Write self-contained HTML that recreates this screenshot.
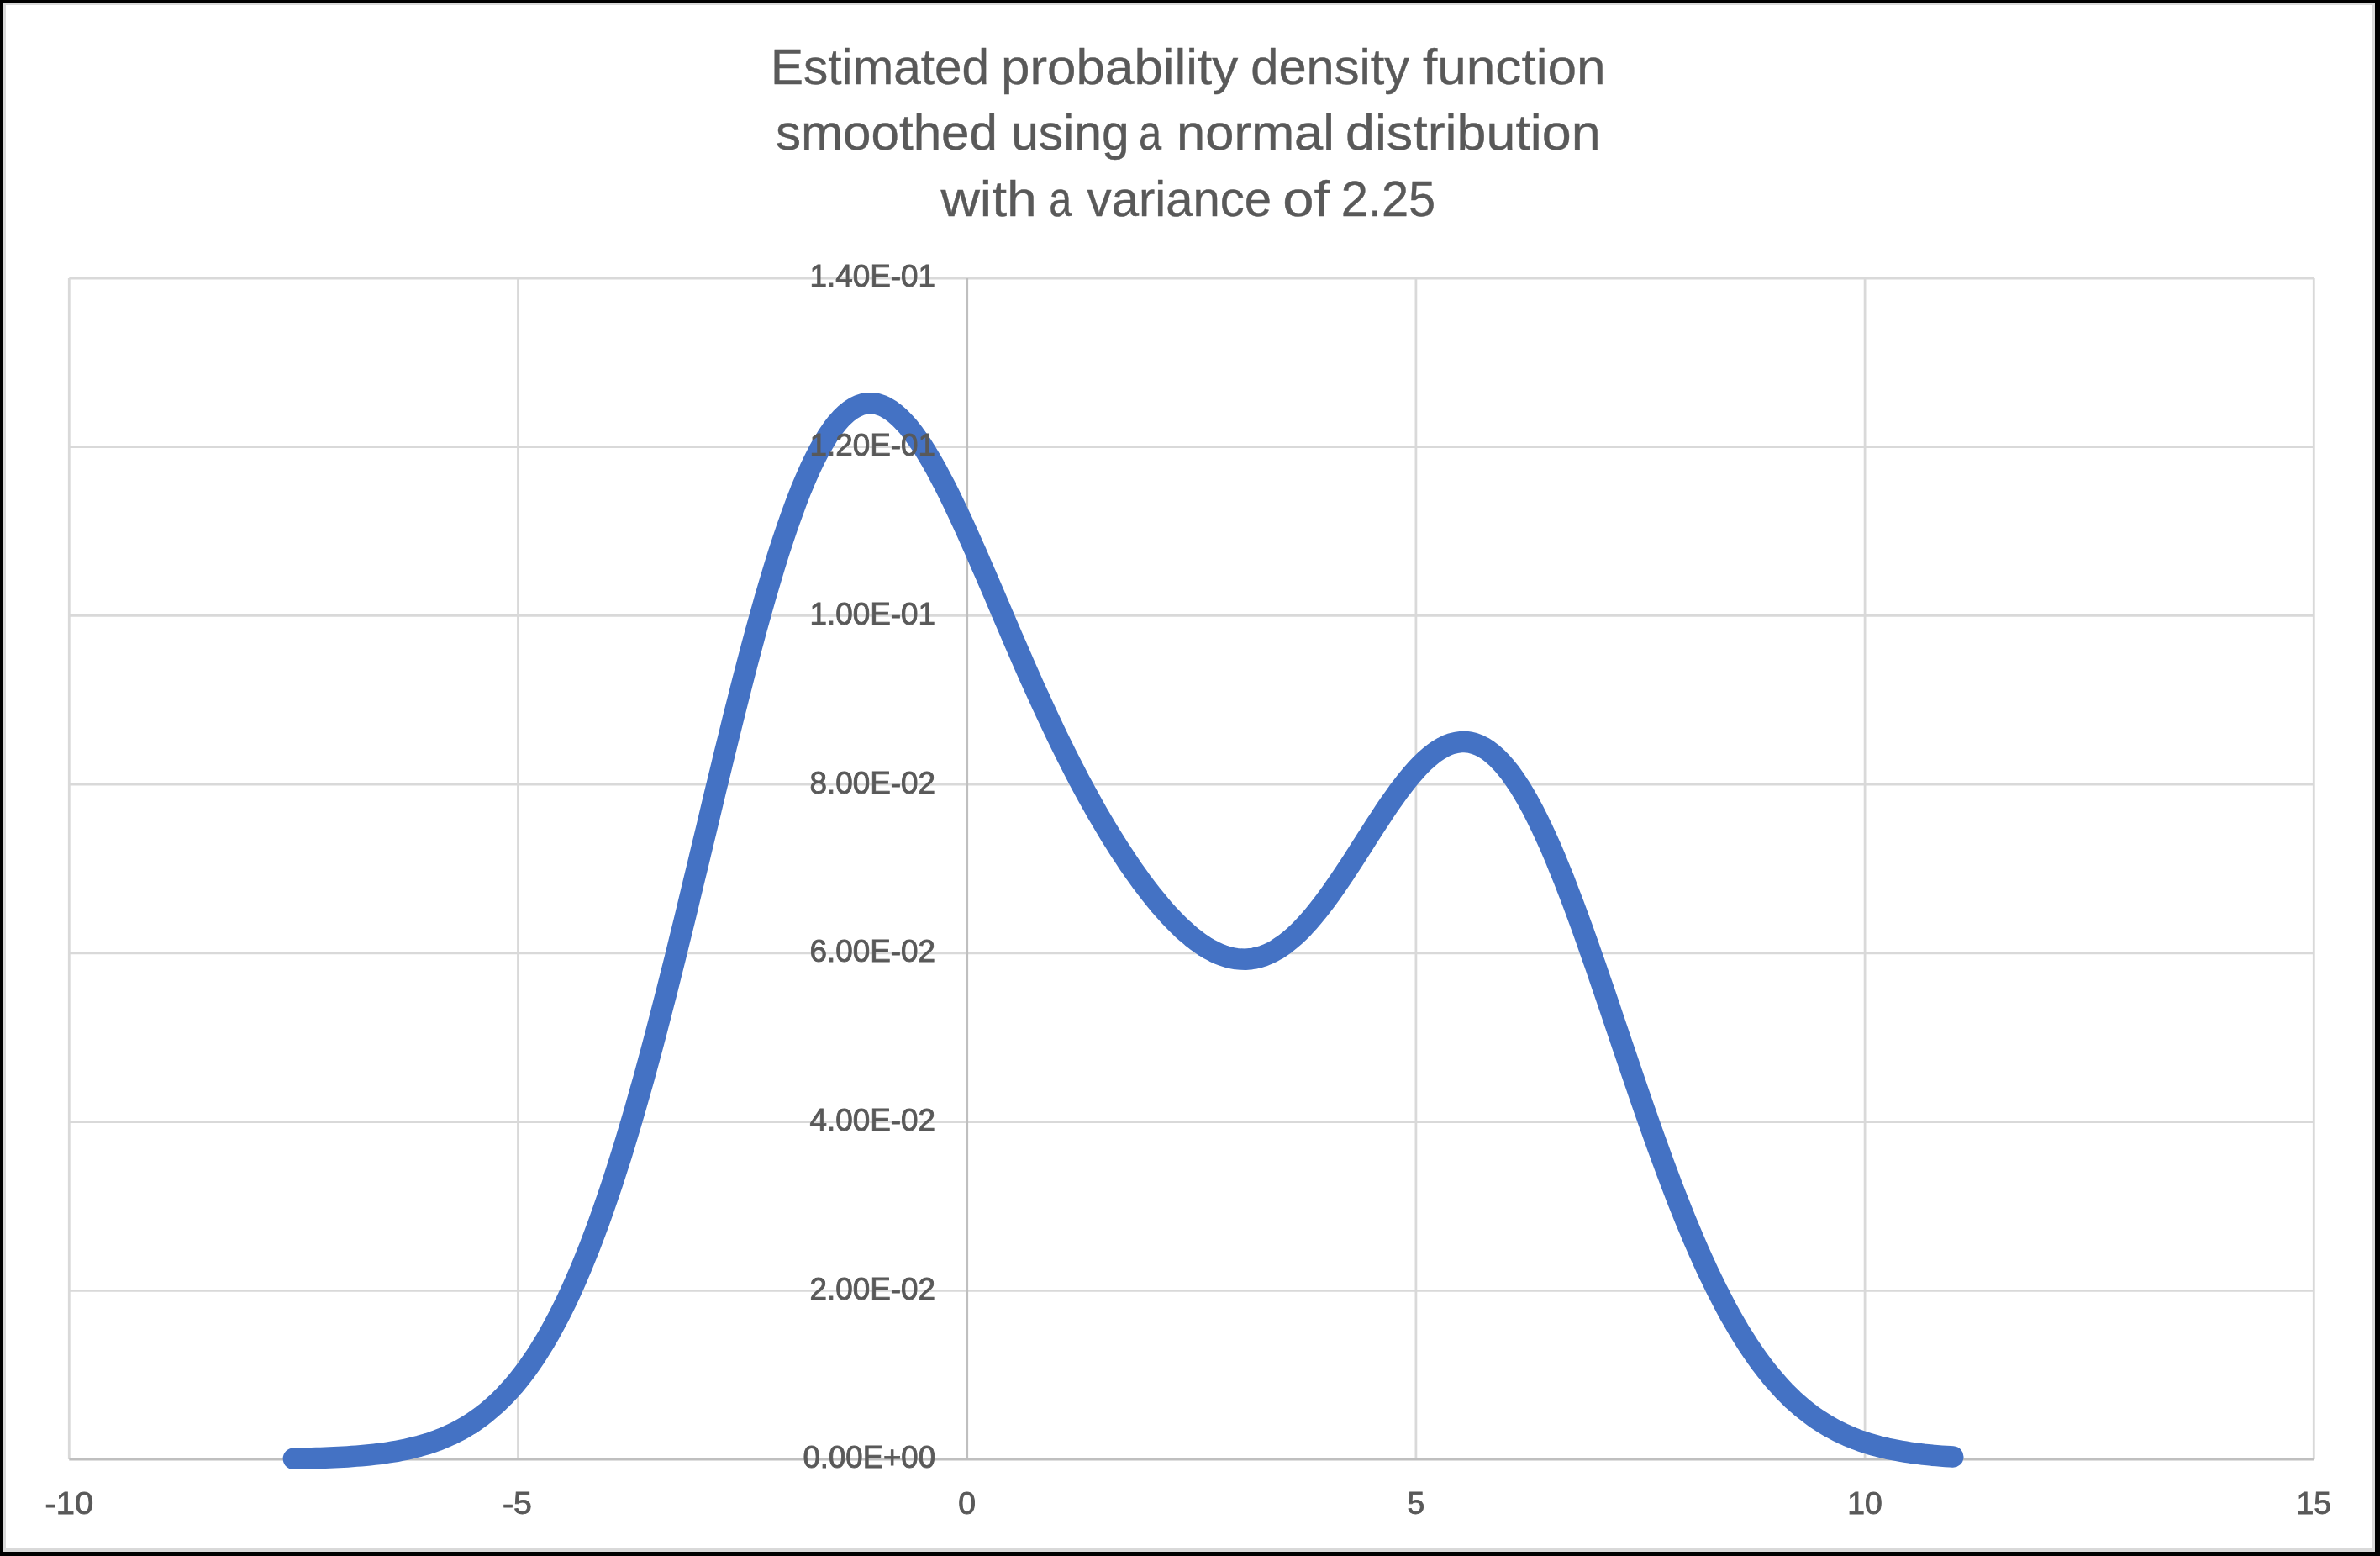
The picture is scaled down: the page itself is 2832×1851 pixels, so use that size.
<!DOCTYPE html>
<html><head><meta charset="utf-8"><style>
html,body{margin:0;padding:0;background:#000;}
svg{display:block;will-change:transform;}
text{font-family:"Liberation Sans",sans-serif;fill:#595959;}
.t{opacity:0.999;}
</style></head><body>
<svg width="2832" height="1851" viewBox="0 0 2832 1851">
<rect x="0" y="0" width="2832" height="1851" fill="#000"/>
<rect x="4" y="3" width="2822" height="1843" fill="#d9d9d9"/>
<rect x="7" y="6" width="2816" height="1836" fill="#fff"/>
<g stroke="#d9d9d9" stroke-width="2.8" fill="none">
<line x1="82.3" y1="331.0" x2="82.3" y2="1736.0"/>
<line x1="616.5" y1="331.0" x2="616.5" y2="1736.0"/>
<line x1="1684.9" y1="331.0" x2="1684.9" y2="1736.0"/>
<line x1="2219.1" y1="331.0" x2="2219.1" y2="1736.0"/>
<line x1="2753.3" y1="331.0" x2="2753.3" y2="1736.0"/>
<line x1="82.3" y1="1535.3" x2="2753.3" y2="1535.3"/>
<line x1="82.3" y1="1334.6" x2="2753.3" y2="1334.6"/>
<line x1="82.3" y1="1133.9" x2="2753.3" y2="1133.9"/>
<line x1="82.3" y1="933.2" x2="2753.3" y2="933.2"/>
<line x1="82.3" y1="732.4" x2="2753.3" y2="732.4"/>
<line x1="82.3" y1="531.7" x2="2753.3" y2="531.7"/>
<line x1="82.3" y1="331.0" x2="2753.3" y2="331.0"/>
</g>
<g stroke="#bfbfbf" stroke-width="2.8" fill="none">
<line x1="1150.7" y1="331.0" x2="1150.7" y2="1736.0"/>
<line x1="82.3" y1="1736.0" x2="2753.3" y2="1736.0"/>
</g>
<polyline fill="none" stroke="#4472c4" stroke-width="25.5" stroke-linecap="round" stroke-linejoin="round" points="349.4,1735.2 354.7,1735.1 360.1,1735.0 365.4,1734.9 370.8,1734.7 376.1,1734.6 381.5,1734.4 386.8,1734.2 392.1,1734.0 397.5,1733.8 402.8,1733.5 408.2,1733.2 413.5,1732.9 418.8,1732.5 424.2,1732.1 429.5,1731.7 434.9,1731.2 440.2,1730.7 445.6,1730.1 450.9,1729.5 456.2,1728.8 461.6,1728.0 466.9,1727.2 472.3,1726.3 477.6,1725.3 483.0,1724.2 488.3,1723.0 493.6,1721.7 499.0,1720.3 504.3,1718.8 509.7,1717.2 515.0,1715.4 520.3,1713.5 525.7,1711.4 531.0,1709.1 536.4,1706.7 541.7,1704.1 547.1,1701.4 552.4,1698.4 557.7,1695.2 563.1,1691.7 568.4,1688.0 573.8,1684.1 579.1,1679.9 584.4,1675.4 589.8,1670.7 595.1,1665.6 600.5,1660.2 605.8,1654.5 611.2,1648.5 616.5,1642.1 621.8,1635.3 627.2,1628.2 632.5,1620.6 637.9,1612.7 643.2,1604.3 648.6,1595.5 653.9,1586.3 659.2,1576.7 664.6,1566.5 669.9,1556.0 675.3,1544.9 680.6,1533.4 685.9,1521.3 691.3,1508.8 696.6,1495.8 702.0,1482.3 707.3,1468.3 712.7,1453.8 718.0,1438.8 723.3,1423.4 728.7,1407.4 734.0,1390.9 739.4,1374.0 744.7,1356.6 750.0,1338.8 755.4,1320.5 760.7,1301.8 766.1,1282.7 771.4,1263.1 776.8,1243.2 782.1,1223.0 787.4,1202.4 792.8,1181.5 798.1,1160.4 803.5,1139.0 808.8,1117.3 814.2,1095.5 819.5,1073.5 824.8,1051.4 830.2,1029.2 835.5,1007.0 840.9,984.7 846.2,962.5 851.5,940.3 856.9,918.2 862.2,896.3 867.6,874.5 872.9,852.9 878.3,831.7 883.6,810.7 888.9,790.1 894.3,769.8 899.6,750.0 905.0,730.6 910.3,711.8 915.7,693.4 921.0,675.7 926.3,658.5 931.7,642.0 937.0,626.2 942.4,611.1 947.7,596.7 953.0,583.0 958.4,570.1 963.7,558.1 969.1,546.8 974.4,536.4 979.8,526.9 985.1,518.2 990.4,510.4 995.8,503.4 1001.1,497.4 1006.5,492.2 1011.8,488.0 1017.2,484.6 1022.5,482.1 1027.8,480.4 1033.2,479.7 1038.5,479.7 1043.9,480.6 1049.2,482.3 1054.5,484.8 1059.9,488.1 1065.2,492.1 1070.6,496.8 1075.9,502.3 1081.3,508.3 1086.6,515.1 1091.9,522.4 1097.3,530.3 1102.6,538.7 1108.0,547.7 1113.3,557.1 1118.6,567.0 1124.0,577.2 1129.3,587.8 1134.7,598.8 1140.0,610.0 1145.4,621.5 1150.7,633.3 1156.0,645.2 1161.4,657.3 1166.7,669.6 1172.1,681.9 1177.4,694.3 1182.8,706.8 1188.1,719.3 1193.4,731.8 1198.8,744.3 1204.1,756.7 1209.5,769.1 1214.8,781.4 1220.1,793.6 1225.5,805.7 1230.8,817.6 1236.2,829.4 1241.5,841.1 1246.9,852.6 1252.2,863.9 1257.5,875.1 1262.9,886.1 1268.2,896.9 1273.6,907.5 1278.9,917.9 1284.2,928.1 1289.6,938.1 1294.9,947.9 1300.3,957.5 1305.6,966.9 1311.0,976.1 1316.3,985.1 1321.6,993.9 1327.0,1002.5 1332.3,1010.9 1337.7,1019.1 1343.0,1027.1 1348.4,1034.9 1353.7,1042.4 1359.0,1049.8 1364.4,1056.9 1369.7,1063.8 1375.1,1070.4 1380.4,1076.9 1385.7,1083.0 1391.1,1089.0 1396.4,1094.6 1401.8,1100.0 1407.1,1105.1 1412.5,1109.9 1417.8,1114.4 1423.1,1118.6 1428.5,1122.5 1433.8,1126.1 1439.2,1129.3 1444.5,1132.1 1449.9,1134.6 1455.2,1136.7 1460.5,1138.4 1465.9,1139.7 1471.2,1140.6 1476.6,1141.1 1481.9,1141.2 1487.2,1140.8 1492.6,1140.0 1497.9,1138.8 1503.3,1137.1 1508.6,1135.0 1514.0,1132.5 1519.3,1129.5 1524.6,1126.0 1530.0,1122.2 1535.3,1117.9 1540.7,1113.3 1546.0,1108.2 1551.4,1102.7 1556.7,1096.9 1562.0,1090.7 1567.4,1084.2 1572.7,1077.4 1578.1,1070.3 1583.4,1063.0 1588.7,1055.4 1594.1,1047.6 1599.4,1039.6 1604.8,1031.5 1610.1,1023.3 1615.5,1014.9 1620.8,1006.6 1626.1,998.2 1631.5,989.9 1636.8,981.6 1642.2,973.4 1647.5,965.3 1652.8,957.4 1658.2,949.8 1663.5,942.3 1668.9,935.2 1674.2,928.4 1679.6,921.9 1684.9,915.8 1690.2,910.1 1695.6,904.9 1700.9,900.2 1706.3,895.9 1711.6,892.2 1717.0,889.1 1722.3,886.5 1727.6,884.6 1733.0,883.3 1738.3,882.6 1743.7,882.5 1749.0,883.2 1754.3,884.5 1759.7,886.5 1765.0,889.1 1770.4,892.5 1775.7,896.6 1781.1,901.3 1786.4,906.8 1791.7,912.9 1797.1,919.6 1802.4,927.1 1807.8,935.2 1813.1,943.9 1818.5,953.2 1823.8,963.1 1829.1,973.6 1834.5,984.6 1839.8,996.1 1845.2,1008.1 1850.5,1020.6 1855.8,1033.6 1861.2,1046.9 1866.5,1060.7 1871.9,1074.8 1877.2,1089.2 1882.6,1103.9 1887.9,1118.8 1893.2,1134.0 1898.6,1149.3 1903.9,1164.8 1909.3,1180.5 1914.6,1196.2 1919.9,1212.0 1925.3,1227.8 1930.6,1243.6 1936.0,1259.4 1941.3,1275.1 1946.7,1290.8 1952.0,1306.3 1957.3,1321.7 1962.7,1337.0 1968.0,1352.0 1973.4,1366.9 1978.7,1381.5 1984.1,1395.9 1989.4,1410.1 1994.7,1423.9 2000.1,1437.5 2005.4,1450.7 2010.8,1463.7 2016.1,1476.3 2021.4,1488.5 2026.8,1500.5 2032.1,1512.1 2037.5,1523.3 2042.8,1534.2 2048.2,1544.7 2053.5,1554.8 2058.8,1564.6 2064.2,1574.0 2069.5,1583.1 2074.9,1591.8 2080.2,1600.1 2085.6,1608.1 2090.9,1615.7 2096.2,1623.0 2101.6,1630.0 2106.9,1636.6 2112.3,1642.9 2117.6,1648.9 2122.9,1654.7 2128.3,1660.1 2133.6,1665.2 2139.0,1670.0 2144.3,1674.6 2149.7,1678.9 2155.0,1683.0 2160.3,1686.8 2165.7,1690.4 2171.0,1693.8 2176.4,1697.0 2181.7,1699.9 2187.0,1702.7 2192.4,1705.3 2197.7,1707.7 2203.1,1710.0 2208.4,1712.1 2213.8,1714.1 2219.1,1715.9 2224.4,1717.6 2229.8,1719.1 2235.1,1720.6 2240.5,1721.9 2245.8,1723.2 2251.2,1724.3 2256.5,1725.3 2261.8,1726.3 2267.2,1727.2 2272.5,1728.0 2277.9,1728.8 2283.2,1729.4 2288.5,1730.1 2293.9,1730.6 2299.2,1731.2 2304.6,1731.6 2309.9,1732.1 2315.3,1732.5 2320.6,1732.8 2323.8,1733.0"/>
<g class="t" font-size="37.3" text-anchor="end" stroke="#595959" stroke-width="0.9">
<text x="1113" y="1746.3" textLength="157.5" lengthAdjust="spacingAndGlyphs">0.00E+00</text>
<text x="1113" y="1545.6" textLength="149.5" lengthAdjust="spacingAndGlyphs">2.00E-02</text>
<text x="1113" y="1344.9" textLength="149.5" lengthAdjust="spacingAndGlyphs">4.00E-02</text>
<text x="1113" y="1144.2" textLength="149.5" lengthAdjust="spacingAndGlyphs">6.00E-02</text>
<text x="1113" y="943.5" textLength="149.5" lengthAdjust="spacingAndGlyphs">8.00E-02</text>
<text x="1113" y="742.7" textLength="149.5" lengthAdjust="spacingAndGlyphs">1.00E-01</text>
<text x="1113" y="542.0" textLength="149.5" lengthAdjust="spacingAndGlyphs">1.20E-01</text>
<text x="1113" y="341.3" textLength="149.5" lengthAdjust="spacingAndGlyphs">1.40E-01</text>
</g>
<g class="t" font-size="37.3" text-anchor="middle" stroke="#595959" stroke-width="0.9">
<text x="82.3" y="1800.8" textLength="57.7" lengthAdjust="spacingAndGlyphs">-10</text>
<text x="615.5" y="1800.8" textLength="35" lengthAdjust="spacingAndGlyphs">-5</text>
<text x="1150.7" y="1800.8">0</text>
<text x="1684.9" y="1800.8">5</text>
<text x="2219.1" y="1800.8">10</text>
<text x="2753.3" y="1800.8">15</text>
</g>
<g class="t" font-size="60" stroke="#595959" stroke-width="0.4">
<text x="917.1" y="100.0" textLength="259.9" lengthAdjust="spacingAndGlyphs">Estimated</text>
<text x="1191.0" y="100.0" textLength="282.3" lengthAdjust="spacingAndGlyphs">probability</text>
<text x="1488.3" y="100.0" textLength="188.8" lengthAdjust="spacingAndGlyphs">density</text>
<text x="1692.9" y="100.0" textLength="217.8" lengthAdjust="spacingAndGlyphs">function</text>
<text x="922.9" y="177.6" textLength="264.1" lengthAdjust="spacingAndGlyphs">smoothed</text>
<text x="1203.2" y="177.6" textLength="140.5" lengthAdjust="spacingAndGlyphs">using</text>
<text x="1355.1" y="177.6" textLength="27.1" lengthAdjust="spacingAndGlyphs">a</text>
<text x="1400.1" y="177.6" textLength="187.8" lengthAdjust="spacingAndGlyphs">normal</text>
<text x="1601.0" y="177.6" textLength="303.6" lengthAdjust="spacingAndGlyphs">distribution</text>
<text x="1119.5" y="256.8" textLength="114.2" lengthAdjust="spacingAndGlyphs">with</text>
<text x="1248.2" y="256.8" textLength="26.9" lengthAdjust="spacingAndGlyphs">a</text>
<text x="1293.6" y="256.8" textLength="219.6" lengthAdjust="spacingAndGlyphs">variance</text>
<text x="1526.3" y="256.8" textLength="55.9" lengthAdjust="spacingAndGlyphs">of</text>
<text x="1595.8" y="256.8" textLength="112.4" lengthAdjust="spacingAndGlyphs">2.25</text>
</g>
</svg>
</body></html>
